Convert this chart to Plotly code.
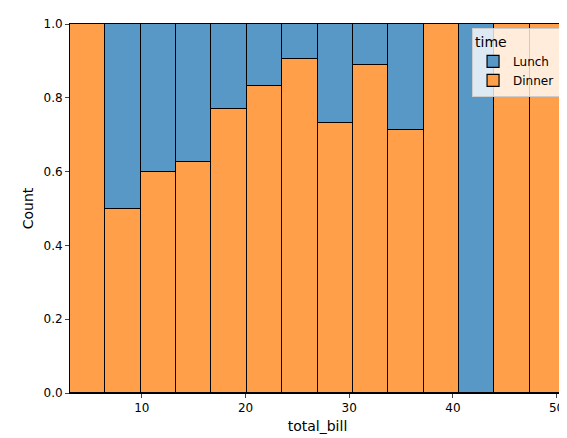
import plotly.graph_objects as go

# bins of total_bill (left edges), shares per bin
bin_start = 3.07
bin_width = (50.81 - 3.07) / 14
dinner_share = [1.0, 0.5, 0.6, 0.625, 0.769, 0.833, 0.905, 0.733, 0.889, 0.714, 1.0, 0.0, 1.0, 1.0]
lunch_share = [1 - d for d in dinner_share]
centers = [bin_start + bin_width * (i + 0.5) for i in range(len(dinner_share))]

fig = go.Figure()
fig.add_trace(go.Bar(x=centers, y=dinner_share, width=bin_width, name="Dinner",
                     marker=dict(color="rgb(255,159,74)", line=dict(color="black", width=1.2))))
fig.add_trace(go.Bar(x=centers, y=lunch_share, width=bin_width, name="Lunch",
                     marker=dict(color="rgb(87,152,199)", line=dict(color="black", width=1.2))))

fig.update_layout(
    barmode="stack", bargap=0,
    width=567, height=438,
    margin=dict(l=62, r=10, t=16, b=53),
    plot_bgcolor="white", paper_bgcolor="white",
    font=dict(family="DejaVu Sans", size=12, color="black"),
    legend=dict(title=dict(text="time"), traceorder="reversed", font=dict(size=12),
                x=0.99, y=0.99, xanchor="right", yanchor="top",
                bgcolor="rgba(255,255,255,0.8)", bordercolor="#cccccc", borderwidth=1),
    xaxis=dict(title=dict(text="total_bill", standoff=6), range=[3.07, 50.81],
               tickvals=[10, 20, 30, 40, 50], automargin=False,
               showgrid=False, showline=True, linecolor="black", mirror=True,
               ticks="outside", ticklen=4, zeroline=False),
    yaxis=dict(title=dict(text="Count", standoff=6), range=[0, 1], dtick=0.2, tickformat=".1f",
               automargin=False,
               showgrid=False, showline=True, linecolor="black", mirror=True,
               ticks="outside", ticklen=4, zeroline=False),
)

fig.write_html("out.html")
